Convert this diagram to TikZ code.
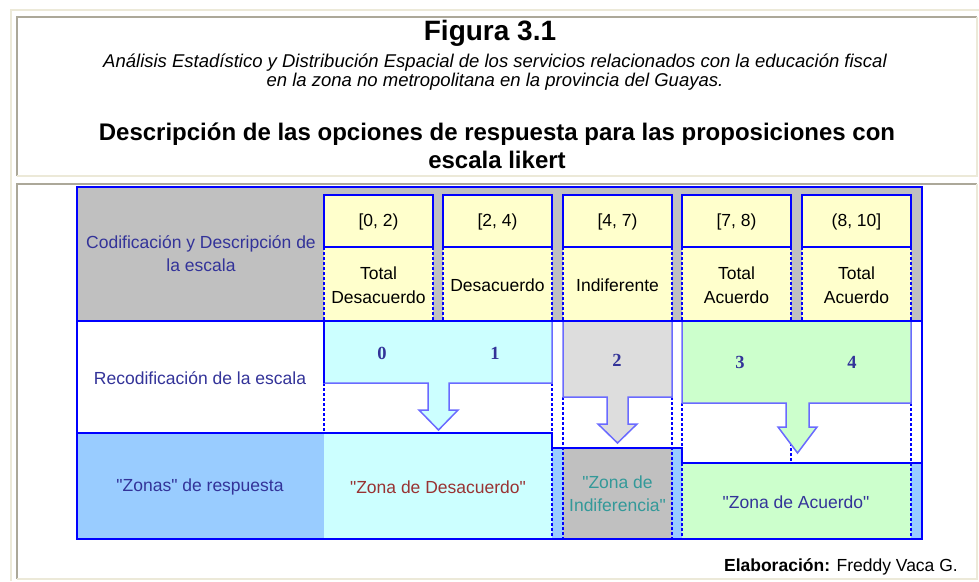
\documentclass[tikz,border=0pt]{standalone}
\usepackage{fontspec}
\setmainfont{Liberation Sans}
\newfontfamily\numfont{Liberation Serif}
\definecolor{marco}{HTML}{ECE9D8}
\definecolor{bordegris}{HTML}{ACA899}
\definecolor{azul}{HTML}{0000FF}
\definecolor{azulflecha}{HTML}{6A6AFF}
\definecolor{grisfondo}{HTML}{C0C0C0}
\definecolor{amarillo}{HTML}{FFFFCC}
\definecolor{celeste}{HTML}{CCFFFF}
\definecolor{grisclaro}{HTML}{DDDDDD}
\definecolor{verde}{HTML}{CCFFCC}
\definecolor{azulzona}{HTML}{99CCFF}
\definecolor{textoazul}{HTML}{333399}
\definecolor{textorojo}{HTML}{993333}
\definecolor{textoverde}{HTML}{339999}
\begin{document}
\begin{tikzpicture}[x=1pt,y=-1pt,
  celda/.style={draw=azul,line width=1.5pt},
  punteada/.style={draw=azul,line width=1.1pt,dash pattern=on 3pt off 2pt},
  flecha/.style={draw=azulflecha,line width=1.5pt,line join=miter},
  marcoclaro/.style={draw=marco,line width=1.8pt},
  marcooscuro/.style={draw=bordegris,line width=1.8pt},
  etiqueta/.style={align=center,inner sep=0pt,text=textoazul,font=\fontsize{17.5}{23}\selectfont},
  rango/.style={etiqueta,text=black,font=\fontsize{17.5}{24}\selectfont},
  numero/.style={inner sep=0pt,text=textoazul,font=\numfont\bfseries\fontsize{18.5}{18}\selectfont}]
\useasboundingbox (0,0) rectangle (979,581);
\fill[white] (0,0) rectangle (979,581);
\draw[marcoclaro] (11,581) -- (11,10) -- (979,10);
\draw[marcooscuro] (17,176) -- (17,17) -- (977,17);
\draw[marcoclaro] (17,176) -- (977,176) -- (977,17);
\draw[marcooscuro] (17,579) -- (17,184) -- (977,184);
\draw[marcoclaro] (17,579) -- (977,579) -- (977,184);
\node[font=\bfseries\fontsize{28}{30}\selectfont] (figura) at (490,33) {Figura 3.1};
\node[align=center,font=\itshape\fontsize{18.5}{19.5}\selectfont] (subtitulo) at (495,72) {Análisis Estadístico y Distribución Espacial de los servicios relacionados con la educación fiscal\\en la zona no metropolitana en la provincia del Guayas.};
\node[align=center,font=\bfseries\fontsize{24}{28}\selectfont] (encabezado) at (497,146) {Descripción de las opciones de respuesta para las proposiciones con\\escala likert};
\fill[grisfondo] (77,187) rectangle (922,321);
\fill[amarillo] (324,195) rectangle (433,321);
\fill[amarillo] (443,195) rectangle (552,321);
\fill[amarillo] (563,195) rectangle (672,321);
\fill[amarillo] (682,195) rectangle (791,321);
\fill[amarillo] (802,195) rectangle (911,321);
\draw[celda] (324,195) rectangle (433,247);
\draw[celda] (443,195) rectangle (552,247);
\draw[celda] (563,195) rectangle (672,247);
\draw[celda] (682,195) rectangle (791,247);
\draw[celda] (802,195) rectangle (911,247);
\draw[punteada] (324,247) -- (324,321);
\draw[punteada] (433,247) -- (433,321);
\draw[punteada] (443,247) -- (443,321);
\draw[punteada] (552,247) -- (552,321);
\draw[punteada] (563,247) -- (563,321);
\draw[punteada] (672,247) -- (672,321);
\draw[punteada] (682,247) -- (682,321);
\draw[punteada] (791,247) -- (791,321);
\draw[punteada] (802,247) -- (802,321);
\draw[punteada] (911,247) -- (911,321);
\fill[azulzona] (77,433) rectangle (324,539);
\fill[celeste] (324,433) rectangle (552,539);
\fill[azulzona] (552,448) rectangle (563,539);
\fill[grisfondo] (563,448) rectangle (672,539);
\fill[azulzona] (672,448) rectangle (682,539);
\fill[verde] (682,463) rectangle (911,539);
\fill[azulzona] (911,463) rectangle (922,539);
\draw[punteada] (324,383) -- (324,433);
\draw[punteada] (552,383) -- (552,433);
\draw[punteada] (552,448) -- (552,539);
\draw[punteada] (563,397) -- (563,539);
\draw[punteada] (672,397) -- (672,539);
\draw[punteada] (682,403) -- (682,539);
\draw[punteada] (791,403) -- (791,463);
\draw[punteada] (911,403) -- (911,539);
\draw[flecha,fill=celeste] (324,321) -- (552,321) -- (552,383) -- (449,383) -- (449,410) -- (458,410) -- (438.5,430) -- (419,410) -- (428,410) -- (428,383) -- (324,383) -- cycle;
\draw[flecha,fill=grisclaro] (563,321) -- (672,321) -- (672,397) -- (628,397) -- (628,424) -- (637,424) -- (617.5,443) -- (598,424) -- (607,424) -- (607,397) -- (563,397) -- cycle;
\draw[flecha,fill=verde] (682,321) -- (911,321) -- (911,403) -- (809,403) -- (809,427) -- (817,427) -- (797.5,453) -- (778,427) -- (786,427) -- (786,403) -- (682,403) -- cycle;
\draw[celda] (77,321) -- (922,321);
\draw[celda] (77,433) -- (552,433) -- (552,448) -- (682,448) -- (682,463) -- (922,463);
\draw[celda] (324,321) -- (324,383);
\draw[celda] (77,187) rectangle (922,539);
\node[etiqueta] (codificacion) at (201,254) {Codificación y Descripción de\\la escala};
\node[rango] (r0) at (378.5,222) {[0, 2)};
\node[rango] (r1) at (497.5,222) {[2, 4)};
\node[rango] (r2) at (617.5,222) {[4, 7)};
\node[rango] (r3) at (736.5,222) {[7, 8)};
\node[rango] (r4) at (856.5,222) {(8, 10]};
\node[rango] (d0) at (378.5,285) {Total\\Desacuerdo};
\node[rango] (d1) at (497.5,285) {Desacuerdo};
\node[rango] (d2) at (617.5,285) {Indiferente};
\node[rango] (d3) at (736.5,285) {Total\\Acuerdo};
\node[rango] (d4) at (856.5,285) {Total\\Acuerdo};
\node[etiqueta] (recodificacion) at (200,378) {Recodificación de la escala};
\node[numero] (n0) at (382,353) {0};
\node[numero] (n1) at (495,353) {1};
\node[numero] (n2) at (617,360) {2};
\node[numero] (n3) at (740,362) {3};
\node[numero] (n4) at (852,362) {4};
\node[etiqueta] (zonas) at (200,487) {\textquotedbl Zonas\textquotedbl{} de respuesta};
\node[etiqueta,text=textorojo] (desacuerdo) at (438,487) {\textquotedbl Zona de Desacuerdo\textquotedbl};
\node[etiqueta,text=textoverde] (indiferencia) at (617.5,494) {\textquotedbl Zona de\\Indiferencia\textquotedbl};
\node[etiqueta] (acuerdo) at (796,502) {\textquotedbl Zona de Acuerdo\textquotedbl};
\node[anchor=east,inner sep=0pt,font=\fontsize{17.5}{20}\selectfont] (elaboracion) at (958,567) {\textbf{Elaboración:} Freddy Vaca G.};
\end{tikzpicture}
\end{document}
